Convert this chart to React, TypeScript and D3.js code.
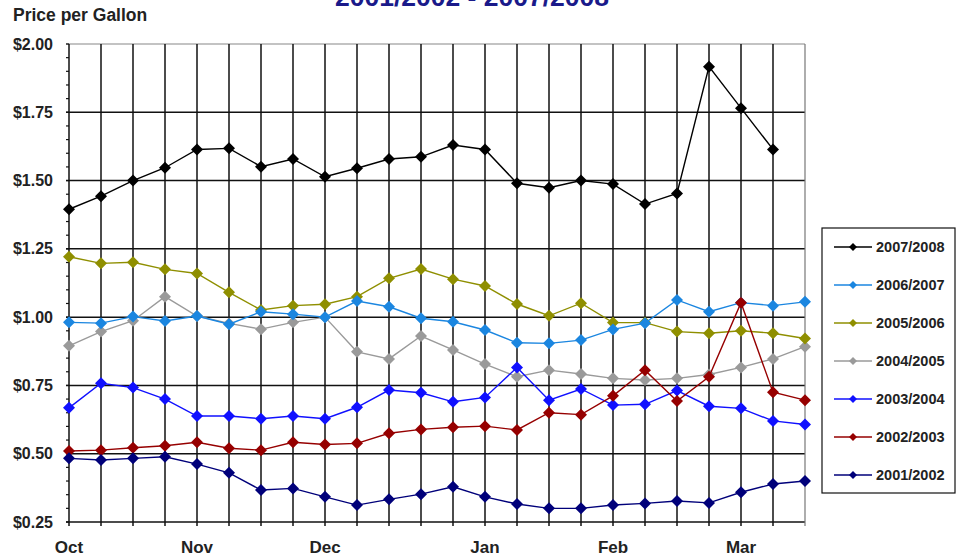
import React from "react";
import * as d3 from "d3";

const periods: number[] = d3.range(24);
const monthLabels = ["Oct", "Nov", "Dec", "Jan", "Feb", "Mar"];
const monthIndex = [0, 4, 8, 13, 17, 21];
const yTickValues = [0.25, 0.5, 0.75, 1.0, 1.25, 1.5, 1.75, 2.0];

const s2007_2008 = [1.395, 1.443, 1.5, 1.547, 1.614, 1.618, 1.551, 1.579, 1.514, 1.545, 1.579, 1.587, 1.63, 1.614, 1.49, 1.474, 1.5, 1.487, 1.414, 1.453, 1.917, 1.765, 1.614];
const s2006_2007 = [0.981, 0.978, 1.002, 0.986, 1.004, 0.974, 1.02, 1.011, 1.0, 1.059, 1.038, 0.996, 0.983, 0.953, 0.906, 0.904, 0.916, 0.955, 0.978, 1.063, 1.02, 1.053, 1.042, 1.056];
const s2005_2006 = [1.221, 1.197, 1.201, 1.175, 1.16, 1.091, 1.026, 1.042, 1.047, 1.075, 1.142, 1.176, 1.139, 1.114, 1.048, 1.005, 1.051, 0.98, 0.98, 0.947, 0.941, 0.95, 0.941, 0.922];
const s2004_2005 = [0.895, 0.947, 0.987, 1.075, 1.004, 0.977, 0.956, 0.981, 1.0, 0.873, 0.847, 0.931, 0.88, 0.828, 0.782, 0.806, 0.792, 0.776, 0.77, 0.776, 0.79, 0.816, 0.847, 0.892];
const s2003_2004 = [0.668, 0.758, 0.742, 0.7, 0.638, 0.638, 0.628, 0.638, 0.628, 0.67, 0.733, 0.723, 0.69, 0.706, 0.816, 0.696, 0.737, 0.678, 0.681, 0.731, 0.674, 0.666, 0.62, 0.607];
const s2002_2003 = [0.51, 0.513, 0.522, 0.529, 0.542, 0.52, 0.513, 0.542, 0.534, 0.538, 0.575, 0.589, 0.597, 0.601, 0.587, 0.65, 0.643, 0.712, 0.806, 0.693, 0.782, 1.053, 0.725, 0.696];
const s2001_2002 = [0.483, 0.477, 0.483, 0.489, 0.462, 0.43, 0.367, 0.373, 0.342, 0.312, 0.333, 0.352, 0.379, 0.342, 0.316, 0.3, 0.3, 0.312, 0.318, 0.327, 0.32, 0.359, 0.389, 0.4];

const seriesNames = ["2007/2008", "2006/2007", "2005/2006", "2004/2005", "2003/2004", "2002/2003", "2001/2002"];
const seriesValues = [s2007_2008, s2006_2007, s2005_2006, s2004_2005, s2003_2004, s2002_2003, s2001_2002];
const seriesColors = ["#000000", "#1b86e0", "#8f8f00", "#9a9a9a", "#1010ff", "#960000", "#00007a"];

const FONT = "'Liberation Sans', Arial, sans-serif";

export default function App() {
  const W = 957, H = 559;
  const left = 69, right = 805, top = 44, bottom = 522;
  const x = d3.scaleLinear().domain([0, 23]).range([left, right]);
  const y = d3.scaleLinear().domain([0.25, 2.0]).range([bottom, top]);
  const line = d3.line<number>().x((_, i) => x(i)).y((v) => y(v));
  const minor = d3.range(0.25, 2.0001, 0.05);
  const diamond = (cx: number, cy: number, r: number) =>
    `M${cx},${cy - r}L${cx + r},${cy}L${cx},${cy + r}L${cx - r},${cy}Z`;

  const drawOrder = [3, 2, 1, 4, 5, 6, 0];
  const legX = 822, legY = 228, legW = 133, legH = 265;

  return (
    <svg width={W} height={H} style={{ position: "absolute", left: 0, top: 0, background: "#fff" }} fontFamily={FONT}>
      <rect x={0} y={0} width={W} height={H} fill="#fff" />
      <text x={472} y={6} textAnchor="middle" fontSize={26.5} fontWeight="bold" fill="#1a1a8a">2001/2002 - 2007/2008</text>
      <text x={13} y={21} fontSize={17.5} fontWeight="bold" fill="#222">Price per Gallon</text>

      {/* horizontal gridlines */}
      {yTickValues.map((v) => (
        <line key={"h" + v} x1={left - 3} x2={right} y1={y(v)} y2={y(v)} stroke={v === 2.0 ? "#888" : "#111"} strokeWidth={v === 2.0 ? 1.2 : 1.5} />
      ))}
      {/* minor ticks */}
      {minor.map((v, i) => (
        <line key={"m" + i} x1={left - 3} x2={left} y1={y(v)} y2={y(v)} stroke="#111" strokeWidth={1.2} />
      ))}
      {/* vertical gridlines */}
      {periods.map((i) => (
        <line key={"v" + i} x1={x(i)} x2={x(i)} y1={top} y2={bottom + 4} stroke={i === 23 ? "#777" : "#111"} strokeWidth={i === 23 ? 1.2 : 1.5} />
      ))}

      {/* y labels */}
      {yTickValues.map((v) => (
        <text key={"yl" + v} x={53} y={y(v) + 5.5} textAnchor="end" fontSize={16} fontWeight="bold" fill="#222">
          {"$" + v.toFixed(2)}
        </text>
      ))}
      {/* x labels */}
      {monthLabels.map((m, k) => (
        <text key={"xl" + m} x={x(monthIndex[k])} y={553} textAnchor="middle" fontSize={17} fontWeight="bold" fill="#222">{m}</text>
      ))}

      {/* series */}
      {drawOrder.map((si) => (
        <g key={"s" + si}>
          <path d={line(seriesValues[si]) || ""} fill="none" stroke={seriesColors[si]} strokeWidth={1.4} />
          {seriesValues[si].map((v, i) => (
            <path key={i} d={diamond(x(i), y(v), 6)} fill={seriesColors[si]} />
          ))}
        </g>
      ))}

      {/* legend */}
      <rect x={legX} y={legY} width={legW} height={legH} fill="#fff" stroke="#111" strokeWidth={1.2} />
      {seriesNames.map((n, k) => {
        const cy = 247 + k * 38;
        return (
          <g key={"lg" + n}>
            <line x1={834} x2={872} y1={cy} y2={cy} stroke={seriesColors[k]} strokeWidth={1.4} />
            <path d={diamond(853, cy, 4)} fill={seriesColors[k]} />
            <text x={876} y={cy + 5} fontSize={14.5} fontWeight="bold" fill="#222">{n}</text>
          </g>
        );
      })}
    </svg>
  );
}
